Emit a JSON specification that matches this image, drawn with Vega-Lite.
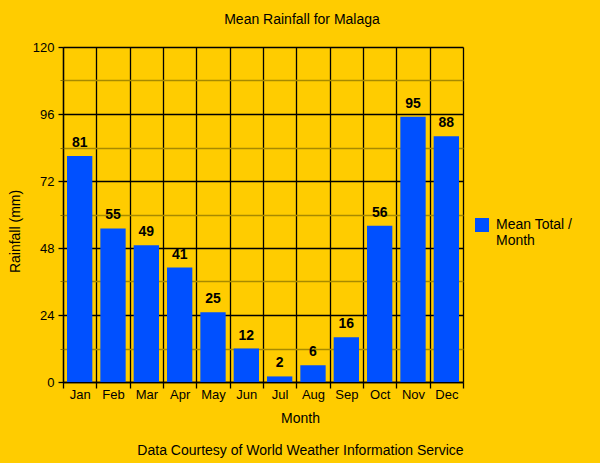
{
  "$schema": "https://vega.github.io/schema/vega-lite/v6.json",
  "autosize": "none",
  "width": 400,
  "height": 335,
  "padding": {"left": 63, "top": 47, "right": 137, "bottom": 81},
  "background": "#ffcc00",
  "title": {
    "text": "Mean Rainfall for Malaga",
    "font": "Liberation Sans",
    "fontSize": 14,
    "fontWeight": "normal",
    "color": "#000000",
    "anchor": "middle",
    "dx": 39,
    "offset": 3,
    "baseline": "alphabetic"
  },
  "config": {
    "view": {"stroke": null},
    "font": "Liberation Sans",
    "axis": {
      "labelFont": "Liberation Sans",
      "titleFont": "Liberation Sans",
      "labelFontSize": 13,
      "titleFontSize": 14,
      "titleFontWeight": "normal",
      "labelColor": "#000000",
      "titleColor": "#000000",
      "domainColor": "#000000",
      "tickColor": "#000000"
    }
  },
  "data": {
    "values": [
      {"month": "Jan", "rain": 81},
      {"month": "Feb", "rain": 55},
      {"month": "Mar", "rain": 49},
      {"month": "Apr", "rain": 41},
      {"month": "May", "rain": 25},
      {"month": "Jun", "rain": 12},
      {"month": "Jul", "rain": 2},
      {"month": "Aug", "rain": 6},
      {"month": "Sep", "rain": 16},
      {"month": "Oct", "rain": 56},
      {"month": "Nov", "rain": 95},
      {"month": "Dec", "rain": 88}
    ]
  },
  "encoding": {
    "x": {
      "field": "month",
      "type": "nominal",
      "sort": null,
      "scale": {"paddingInner": 0, "paddingOuter": 0},
      "axis": {
        "title": ["Month", "Data Courtesy of World Weather Information Service"],
        "titleLineHeight": 32,
        "titleX": 237,
        "titlePadding": 10,
        "labelAngle": 0,
        "labelPadding": 0,
        "tickSize": 6,
        "tickBand": "extent",
        "grid": true,
        "gridColor": "#000000",
        "gridOpacity": 1,
        "gridWidth": 1.3,
        "domainWidth": 1.3,
        "tickWidth": 1.3
      }
    },
    "y": {
      "field": "rain",
      "type": "quantitative",
      "scale": {"domain": [0, 120], "nice": false}
    }
  },
  "layer": [
    {
      "mark": {"type": "bar", "color": "#0050ff", "width": {"band": 0.76}},
      "encoding": {
        "color": {
          "datum": "Mean Total / Month",
          "scale": {"range": ["#0050ff"]},
          "legend": {
            "title": null,
            "orient": "none",
            "legendX": 412,
            "legendY": 171,
            "padding": 0,
            "symbolType": "square",
            "symbolSize": 196,
            "symbolStrokeWidth": 0,
            "symbolFillColor": "#0050ff",
            "labelFont": "Liberation Sans",
            "labelFontSize": 14,
            "labelColor": "#000000",
            "labelLineHeight": 17,
            "labelOffset": 7,
            "labelExpr": "['Mean Total /', 'Month']",
            "labelBaseline": "middle",
            "labelLimit": 200
          }
        },
        "y": {
          "field": "rain",
          "type": "quantitative",
          "scale": {"domain": [0, 120], "nice": false},
          "axis": {
            "title": "Rainfall (mm)",
            "titleY": 184,
            "titlePadding": 10,
            "values": [0, 24, 48, 72, 96, 120],
            "tickSize": 5,
            "labelPadding": 4,
            "grid": true,
            "gridColor": "#000000",
            "gridOpacity": 1,
            "gridWidth": 1.3,
            "domainWidth": 1.3,
            "tickWidth": 1.3,
            "zindex": 0
          }
        }
      }
    },
    {
      "mark": {"type": "text", "baseline": "bottom", "dy": -6, "fontSize": 14, "fontWeight": "bold", "font": "Liberation Sans", "color": "#000000"},
      "encoding": {
        "text": {"field": "rain", "type": "quantitative"},
        "y": {
          "field": "rain",
          "type": "quantitative",
          "scale": {"domain": [0, 120], "nice": false},
          "axis": {
            "orient": "left",
            "title": null,
            "values": [12, 36, 60, 84, 108],
            "labels": false,
            "domain": false,
            "tickSize": 3,
            "tickColor": "#8a7000",
            "grid": true,
            "gridColor": "#a88a00",
            "gridOpacity": 1,
            "gridWidth": 1.3,
            "zindex": 0
          }
        }
      }
    }
  ],
  "resolve": {"axis": {"y": "independent"}}
}
